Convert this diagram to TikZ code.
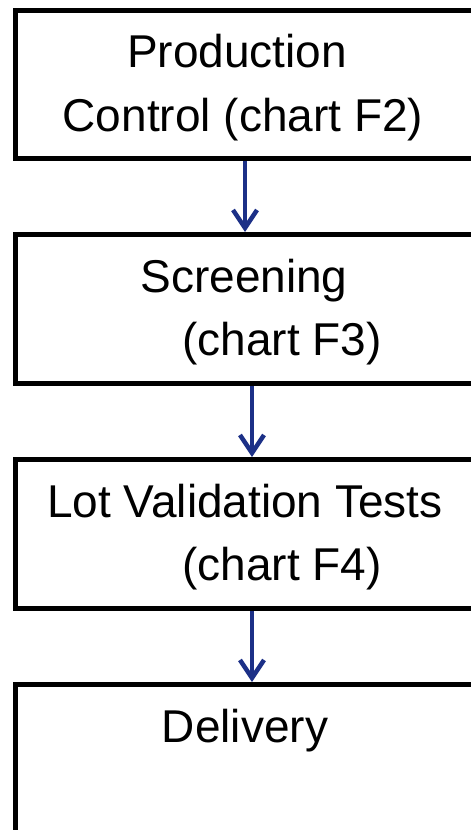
\documentclass[tikz,border=0pt]{standalone}
\usepackage{fontspec}
\setmainfont{Liberation Sans}
\usetikzlibrary{arrows.meta}
\definecolor{arrowblue}{RGB}{28,48,135}
\begin{document}
\begin{tikzpicture}[x=1pt,y={(0,-1pt)},
  stepbox/.style={draw=black,line width=5pt,fill=white,inner sep=0pt,anchor=north west,minimum width=600pt},
  label/.style={font=\fontsize{46}{60}\selectfont,inner sep=0pt,anchor=base},
  flow/.style={draw=arrowblue,line width=4.5pt,-{Straight Barb[length=18pt,width=24pt,line width=4.5pt]}}]
\useasboundingbox (0,0) rectangle (471,830);
\clip (0,0) rectangle (471,830);
\node[stepbox,minimum height=148pt] (b1) at (12.5,8) {};
\node[stepbox,minimum height=149pt] (b2) at (12.5,232) {};
\node[stepbox,minimum height=149pt] (b3) at (12.5,457) {};
\node[stepbox,minimum height=250pt] (b4) at (12.5,682) {};
\node[label] (t1a) at (237,67) {Production};
\node[label] (t1b) at (243,131) {Control (chart F2)};
\node[label] (t2a) at (244,292) {Screening};
\node[label] (t2b) at (282,355) {(chart F3)};
\node[label] (t3a) at (245,517) {Lot Validation Tests};
\node[label] (t3b) at (282,580) {(chart F4)};
\node[label] (t4a) at (245,742) {Delivery};
\coordinate (xa) at (245,0);
\coordinate (xb) at (252,0);
\draw[flow] (b1.south -| xa) -- (b2.north -| xa);
\draw[flow] (b2.south -| xb) -- (b3.north -| xb);
\draw[flow] (b3.south -| xb) -- (b4.north -| xb);
\end{tikzpicture}
\end{document}
